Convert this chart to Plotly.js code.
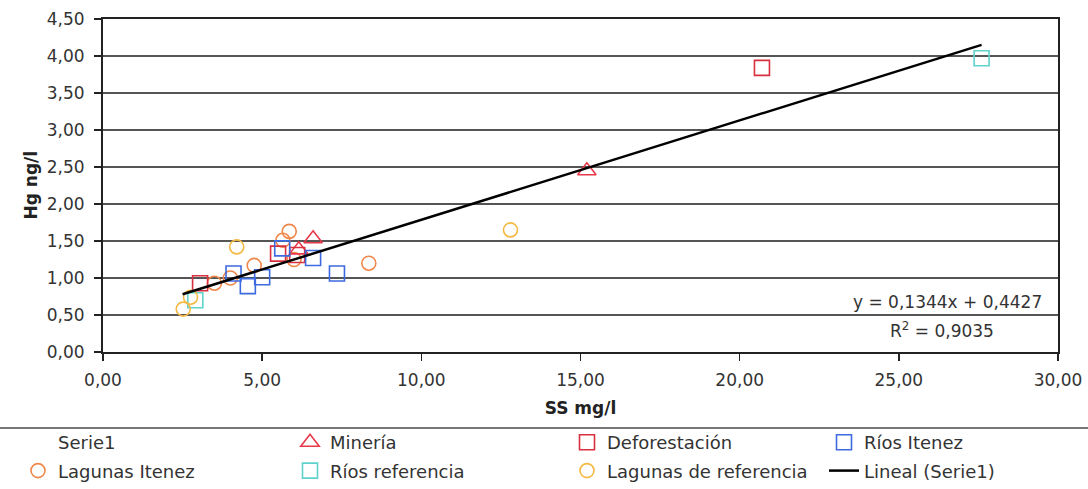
<!DOCTYPE html>
<html>
<head>
<meta charset="utf-8">
<script src="https://cdn.plot.ly/plotly-3.0.1.min.js"></script>
<style>html,body{margin:0;padding:0;background:#fff}#chart{width:1088px;height:489px}</style>
</head>
<body>
<div id="chart"></div>
<script>
// ---- data ----
var mineriaX = [15.2, 6.6, 6.15];
var mineriaY = [2.45, 1.53, 1.38];

var deforX = [20.7, 3.05, 5.5, 6.1];
var deforY = [3.84, 0.93, 1.33, 1.31];

var riosItenezX = [7.35, 6.6, 5.63, 5.0, 4.55, 4.1];
var riosItenezY = [1.06, 1.27, 1.40, 1.01, 0.89, 1.06];

var lagItenezX = [8.35, 5.85, 5.65, 6.0, 4.75, 4.0, 3.5];
var lagItenezY = [1.20, 1.63, 1.51, 1.25, 1.17, 1.00, 0.93];

var riosRefX = [27.6, 2.9];
var riosRefY = [3.97, 0.70];

var lagRefX = [12.8, 4.2, 2.75, 2.52];
var lagRefY = [1.65, 1.42, 0.74, 0.58];

var trendX = [2.5, 27.6];
var trendY = [0.78, 4.15];

var xTitle = "SS mg/l";
var yTitle = "Hg ng/l";
var equationText = "y = 0,1344x + 0,4427";
var r2Text = "R<sup>2</sup> = 0,9035";

// ---- styles ----
var FONT = "DejaVu Sans, Verdana, sans-serif";
function mk(symbol, color, size) {
  return {symbol: symbol, size: size, color: color, line: {color: color, width: 1.6}};
}

var traces = [
  {name: "Serie1", x: [null], y: [null], type: "scatter", mode: "markers",
   marker: {color: "rgba(0,0,0,0)", size: 1}, legend: "legend", legendgroup: "a"},
  {name: "Lagunas Itenez", x: lagItenezX, y: lagItenezY, type: "scatter", mode: "markers",
   marker: mk("circle-open", "#F0874A", 14), legend: "legend", legendgroup: "b"},
  {name: "Minería", x: mineriaX, y: mineriaY, type: "scatter", mode: "markers",
   marker: mk("triangle-up-open", "#E8394A", 16), legend: "legend2", legendgroup: "c"},
  {name: "Ríos referencia", x: riosRefX, y: riosRefY, type: "scatter", mode: "markers",
   marker: mk("square-open", "#5FD3CB", 15), legend: "legend2", legendgroup: "d"},
  {name: "Deforestación", x: deforX, y: deforY, type: "scatter", mode: "markers",
   marker: mk("square-open", "#D9303F", 15), legend: "legend3", legendgroup: "e"},
  {name: "Lagunas de referencia", x: lagRefX, y: lagRefY, type: "scatter", mode: "markers",
   marker: mk("circle-open", "#F4B942", 14), legend: "legend3", legendgroup: "f"},
  {name: "Ríos Itenez", x: riosItenezX, y: riosItenezY, type: "scatter", mode: "markers",
   marker: mk("square-open", "#3D6AE0", 15), legend: "legend4", legendgroup: "g"},
  {name: "Lineal (Serie1)", x: trendX, y: trendY, type: "scatter", mode: "lines",
   line: {color: "#000", width: 2.5}, legend: "legend4", legendgroup: "h"}
];

function leg(xpx) {
  return {xref: "container", yref: "container", x: xpx / 1088, y: 1 - 424 / 489,
    xanchor: "left", yanchor: "top", orientation: "v", bgcolor: "rgba(0,0,0,0)",
    font: {family: FONT, size: 18, color: "#333"}, tracegroupgap: 2, itemclick: false};
}

var layout = {
  width: 1088, height: 489,
  margin: {l: 103, r: 30, t: 19, b: 137, autoexpand: false},
  paper_bgcolor: "#fff", plot_bgcolor: "#fff",
  separators: ", ",
  font: {family: FONT, color: "#333"},
  showlegend: true,
  legend: leg(18),
  legend2: leg(290),
  legend3: leg(567),
  legend4: leg(824),
  xaxis: {
    range: [0, 30], dtick: 5, tick0: 0, tickformat: ".2f",
    showgrid: false, zeroline: false,
    showline: true, linecolor: "#222", linewidth: 2, mirror: true,
    ticks: "outside", ticklen: 7, tickcolor: "#222", tickwidth: 1.5,
    ticklabelstandoff: 5,
    tickfont: {family: FONT, size: 17, color: "#333"},
    title: {text: "<b>" + xTitle + "</b>", font: {family: FONT, size: 17, color: "#222"}}
  },
  yaxis: {
    range: [0, 4.5], dtick: 0.5, tick0: 0, tickformat: ".2f",
    showgrid: true, gridcolor: "#555", gridwidth: 1.5, zeroline: false,
    showline: true, linecolor: "#222", linewidth: 2, mirror: true,
    ticks: "outside", ticklen: 7, tickcolor: "#222", tickwidth: 1.5,
    ticklabelstandoff: 6,
    tickfont: {family: FONT, size: 17, color: "#333"}
  },
  annotations: [
    {xref: "paper", yref: "paper", x: -73 / 955, y: 0.5, xanchor: "center", yanchor: "middle",
     textangle: -90, text: "<b>" + yTitle + "</b>", showarrow: false,
     font: {family: FONT, size: 17, color: "#222"}},
    {xref: "paper", yref: "y", x: 0.985, y: 0.52, xanchor: "right", yanchor: "bottom",
     text: equationText, showarrow: false, font: {family: FONT, size: 17, color: "#333"}},
    {xref: "paper", yref: "y", x: 0.935, y: 0.47, xanchor: "right", yanchor: "top",
     text: r2Text, showarrow: false, font: {family: FONT, size: 17, color: "#333"}}
  ],
  shapes: [
    {type: "line", xref: "paper", yref: "paper",
     x0: -103 / 955, x1: 985 / 955, y0: -76 / 333, y1: -76 / 333,
     line: {color: "#777", width: 2}}
  ]
};

Plotly.newPlot("chart", traces, layout, {displayModeBar: false, staticPlot: true});
</script>
</body>
</html>
